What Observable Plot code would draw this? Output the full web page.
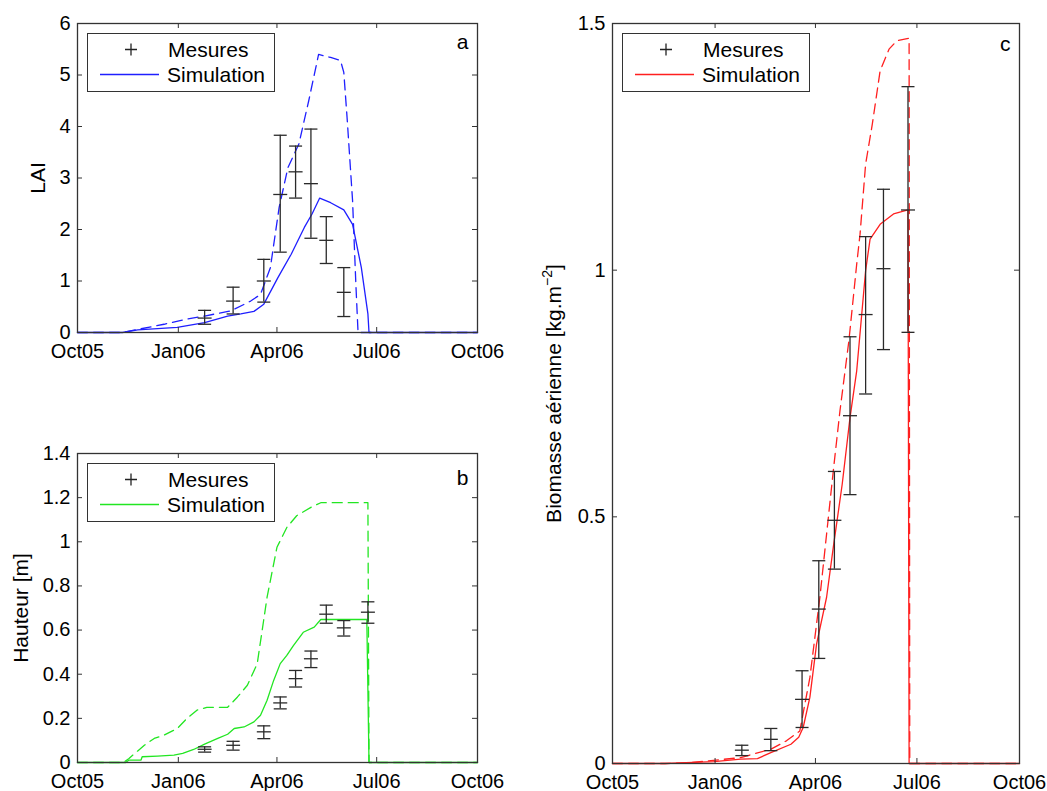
<!DOCTYPE html>
<html><head><meta charset="utf-8">
<script src="https://cdn.jsdelivr.net/npm/d3@7"></script>
<script src="https://cdn.jsdelivr.net/npm/@observablehq/plot@0.6"></script>
<style>
body{margin:0;background:#fff;}
#chart{position:relative;width:1047px;height:791px;font-family:"Liberation Sans",Arial,sans-serif;overflow:hidden;}
#chart svg{position:absolute;}
.legend{position:absolute;border:1.3px solid #333;background:#fff;box-sizing:border-box;width:188px;height:59px;}
.legend .lab{position:absolute;font-size:21px;line-height:21px;color:#000;white-space:nowrap;}
.legend svg{position:absolute;left:0;top:0;}
</style></head><body><div id="chart"></div>
<script>
// ---- axes ----
const xTickDates = ["2005-10-01","2006-01-01","2006-04-01","2006-07-01","2006-10-01"];
const xTickLabels = ["Oct05","Jan06","Apr06","Jul06","Oct06"];
const laiTicks = [0,1,2,3,4,5,6];
const hauteurTicks = [0,0.2,0.4,0.6,0.8,1,1.2,1.4];
const biomasseTicks = [0,0.5,1,1.5];
const legendLabels = ["Mesures","Simulation"];

// ---- measurements (mean, low and high ends of the error bars) ----
const mesDates = ["2006-01-25","2006-02-20","2006-03-20","2006-04-04","2006-04-18","2006-05-02","2006-05-16","2006-06-01","2006-06-23"];
const laiMes = [0.28,0.61,1.00,2.68,3.12,2.89,1.79,0.78];
const laiLo  = [0.16,0.36,0.59,1.56,2.61,1.83,1.34,0.31];
const laiHi  = [0.43,0.88,1.42,3.83,3.62,3.95,2.25,1.26];
const hautMes = [0.060,0.078,0.139,0.270,0.380,0.470,0.672,0.610,0.681];
const hautLo  = [0.047,0.056,0.108,0.243,0.342,0.430,0.631,0.573,0.631];
const hautHi  = [0.071,0.096,0.166,0.297,0.417,0.505,0.713,0.643,0.728];
const bioMes = [0.027,0.049,0.130,0.313,0.493,0.705,0.910,1.003,1.122];
const bioLo  = [0.016,0.026,0.073,0.213,0.394,0.545,0.749,0.839,0.874];
const bioHi  = [0.037,0.071,0.188,0.411,0.592,0.865,1.068,1.164,1.372];

// ---- simulations: solid and dashed ----
const laiSim = [["2005-10-01",0],["2005-11-11",0],["2005-11-25",0.05],["2005-12-31",0.10],["2006-01-25",0.19],["2006-02-15",0.32],["2006-02-27",0.36],["2006-03-11",0.41],["2006-03-20",0.55],["2006-04-02",1.07],["2006-04-14",1.52],["2006-04-26",2.04],["2006-05-03",2.30],["2006-05-10",2.61],["2006-05-20",2.52],["2006-06-01",2.38],["2006-06-09",2.10],["2006-06-17",1.26],["2006-06-23",0.36],["2006-06-24",0],["2006-10-01",0]];
const laiSimDash = [["2005-10-01",0],["2005-11-11",0],["2005-11-25",0.06],["2005-12-19",0.16],["2006-01-09",0.26],["2006-01-25",0.32],["2006-02-18",0.42],["2006-03-08",0.61],["2006-03-17",0.74],["2006-03-26",1.26],["2006-04-03",2.43],["2006-04-11",3.20],["2006-04-21",3.66],["2006-04-30",4.50],["2006-05-09",5.40],["2006-05-20",5.34],["2006-05-29",5.28],["2006-06-01",5.05],["2006-06-04",4.17],["2006-06-09",2.56],["2006-06-12",0.94],["2006-06-14",0],["2006-10-01",0]];
const hautSim = [["2005-10-01",0],["2005-11-14",0],["2005-11-17",0.011],["2005-11-28",0.011],["2005-11-29",0.026],["2005-12-13",0.029],["2005-12-28",0.033],["2006-01-05",0.041],["2006-01-15",0.059],["2006-01-25",0.083],["2006-02-06",0.109],["2006-02-15",0.128],["2006-02-21",0.154],["2006-03-02",0.161],["2006-03-11",0.184],["2006-03-17",0.214],["2006-03-23",0.282],["2006-03-29",0.372],["2006-04-04",0.448],["2006-04-10",0.485],["2006-04-16",0.530],["2006-04-25",0.590],["2006-05-05",0.613],["2006-05-11",0.648],["2006-06-22",0.648],["2006-06-24",0],["2006-10-01",0]];
const hautSimDash = [["2005-10-01",0],["2005-11-12",0],["2005-11-17",0.018],["2005-11-22",0.040],["2005-12-01",0.078],["2005-12-10",0.109],["2005-12-19",0.124],["2005-12-31",0.154],["2006-01-09",0.200],["2006-01-18",0.237],["2006-01-27",0.250],["2006-02-15",0.250],["2006-02-24",0.297],["2006-03-05",0.350],["2006-03-14",0.448],["2006-03-23",0.749],["2006-04-01",0.975],["2006-04-10",1.065],["2006-04-19",1.118],["2006-05-02",1.156],["2006-05-11",1.177],["2006-06-23",1.177],["2006-06-24",0],["2006-10-01",0]];
const bioSim = [["2005-10-01",0],["2005-11-17",0],["2005-12-31",0.004],["2006-01-24",0.009],["2006-02-08",0.010],["2006-02-20",0.022],["2006-03-10",0.039],["2006-03-17",0.053],["2006-03-21",0.073],["2006-03-27",0.134],["2006-04-02",0.242],["2006-04-11",0.337],["2006-04-17",0.438],["2006-04-25",0.566],["2006-05-02",0.701],["2006-05-08",0.796],["2006-05-16",0.999],["2006-05-20",1.063],["2006-05-29",1.093],["2006-06-10",1.114],["2006-06-23",1.122],["2006-06-24",0],["2006-10-01",0]];
const bioSimDash = [["2005-10-01",0],["2005-11-17",0],["2005-12-07",0.001],["2006-01-24",0.012],["2006-02-20",0.029],["2006-03-06",0.046],["2006-03-18",0.066],["2006-03-27",0.174],["2006-04-05",0.337],["2006-04-17",0.593],["2006-04-23",0.715],["2006-05-01",0.857],["2006-05-08",1.012],["2006-05-11",1.073],["2006-05-16",1.215],["2006-05-22",1.296],["2006-05-29",1.404],["2006-06-06",1.448],["2006-06-13",1.465],["2006-06-24",1.470],["2006-06-24T14:00Z",0],["2006-10-01",0]];

// ---- drawing ----
const parse = s => new Date(s.length === 10 ? s + "T00:00Z" : s);
const xDomain = [parse(xTickDates[0]), parse(xTickDates[xTickDates.length - 1])];
const xTicks = xTickDates.map(parse);
const xFmt = d => xTickLabels[xTicks.findIndex(t => +t === +d)];
const yFmt = d => String(d);
const hbar = {draw(ctx, size) { const r = Math.sqrt(size / Math.PI); ctx.moveTo(-r, 0); ctx.lineTo(r, 0); }};
const chart = document.getElementById("chart");
const FONT = '"Liberation Sans", Arial, Helvetica, sans-serif';

function panel(o) {
  const W = o.width - o.mL - o.mR, H = o.height - o.mT - o.mB;
  const pts = o.mes.map((v, i) => ({date: parse(mesDates[i]), v, lo: o.lo[i], hi: o.hi[i]}));
  const sx = d => parse(d[0]), sy = d => d[1];
  const tick = 5, ink = "#333", bar = "#2a2a2a";
  const svg = Plot.plot({
    width: o.width, height: o.height,
    marginLeft: o.mL, marginRight: o.mR, marginTop: o.mT, marginBottom: o.mB,
    style: {fontFamily: FONT, fontSize: "20px", background: "transparent", color: "#000", overflow: "visible"},
    x: {type: "utc", domain: xDomain},
    y: {domain: o.yDomain},
    marks: [
      Plot.line(o.simDash, {x: sx, y: sy, stroke: o.color, strokeWidth: 1.3, strokeDasharray: "10,6"}),
      Plot.line(o.sim, {x: sx, y: sy, stroke: o.color, strokeWidth: 1.3}),
      Plot.ruleX(pts, {x: "date", y1: "lo", y2: "hi", stroke: bar, strokeWidth: 1.3}),
      Plot.dot(pts, {x: "date", y: "lo", symbol: hbar, r: 6.5, stroke: bar, fill: "none", strokeWidth: 1.3}),
      Plot.dot(pts, {x: "date", y: "hi", symbol: hbar, r: 6.5, stroke: bar, fill: "none", strokeWidth: 1.3}),
      Plot.dot(pts, {x: "date", y: "v", symbol: hbar, r: 7, stroke: bar, fill: "none", strokeWidth: 1.3}),
      Plot.ruleX(xTicks, {x: d => d, insetTop: H - tick, stroke: ink}),
      Plot.ruleX(xTicks, {x: d => d, insetBottom: H - tick, stroke: ink}),
      Plot.ruleY(o.yTicks, {y: d => d, insetRight: W - tick, stroke: ink}),
      Plot.ruleY(o.yTicks, {y: d => d, insetLeft: W - tick, stroke: ink}),
      Plot.frame({stroke: ink, strokeWidth: 1.3}),
      Plot.axisX(xTicks, {tickSize: 0, tickPadding: 11, tickFormat: xFmt, label: null}),
      Plot.axisY(o.yTicks, {tickSize: 0, tickPadding: 7, tickFormat: yFmt, label: o.yLabel, labelAnchor: "center", labelOffset: o.labelOffset, labelArrow: "none", fontSize: 20}),
      Plot.text([o.letter], {text: d => d, frameAnchor: "top-right", dx: o.letterDx, dy: o.letterDy, lineAnchor: "bottom", textAnchor: "end", fontSize: 21})
    ]
  });
  svg.style.left = o.left + "px";
  svg.style.top = o.top + "px";
  chart.appendChild(svg);
  // style axis label
  svg.querySelectorAll('g[aria-label="y-axis label"] text').forEach(t => { t.setAttribute("font-size", "21"); t.style.fontSize = "21px"; });
  if (o.superscript) {
    const t = svg.querySelector('g[aria-label="y-axis label"] text');
    if (t) {
      const full = t.textContent;
      const k = full.indexOf(o.superscript.before);
      t.textContent = "";
      const a = document.createElementNS("http://www.w3.org/2000/svg", "tspan");
      a.textContent = full.slice(0, k + o.superscript.before.length);
      const s = document.createElementNS("http://www.w3.org/2000/svg", "tspan");
      s.textContent = o.superscript.sup; s.setAttribute("dy", "-9"); s.setAttribute("font-size", "14");
      const b = document.createElementNS("http://www.w3.org/2000/svg", "tspan");
      b.textContent = full.slice(k + o.superscript.before.length); b.setAttribute("dy", "9");
      t.append(a, s, b);
    }
  }
  // legend
  const lg = document.createElement("div");
  lg.className = "legend";
  lg.style.left = (o.left + o.legendX) + "px";
  lg.style.top = (o.top + o.legendY) + "px";
  const ns = "http://www.w3.org/2000/svg";
  const ls = document.createElementNS(ns, "svg");
  ls.setAttribute("width", 186); ls.setAttribute("height", 57);
  const plus = document.createElementNS(ns, "path");
  plus.setAttribute("d", "M37,15.5h12M43,9.5v12"); plus.setAttribute("stroke", "#222"); plus.setAttribute("stroke-width", "1.3"); plus.setAttribute("fill", "none");
  const ln = document.createElementNS(ns, "path");
  ln.setAttribute("d", "M12,40.5h59"); ln.setAttribute("stroke", o.color); ln.setAttribute("stroke-width", "1.3");
  ls.append(plus, ln);
  lg.appendChild(ls);
  const t1 = document.createElement("span"); t1.className = "lab"; t1.textContent = legendLabels[0]; t1.style.left = "80px"; t1.style.top = "5px";
  const t2 = document.createElement("span"); t2.className = "lab"; t2.textContent = legendLabels[1]; t2.style.left = "79px"; t2.style.top = "30px";
  lg.append(t1, t2);
  chart.appendChild(lg);
}

panel({left: 0, top: 0, width: 507, height: 368, mL: 77, mR: 30, mT: 23, mB: 36,
  yDomain: [0, 6], yTicks: laiTicks, yLabel: "LAI", labelOffset: 47, letter: "a", letterDx: -9, letterDy: 25,
  color: "#1f1fff", sim: laiSim, simDash: laiSimDash, mes: laiMes, lo: laiLo, hi: laiHi, legendX: 87, legendY: 33});
panel({left: 0, top: 430, width: 507, height: 361, mL: 77, mR: 30, mT: 23, mB: 29,
  yDomain: [0, 1.4], yTicks: hauteurTicks, yLabel: "Hauteur [m]", labelOffset: 64, letter: "b", letterDx: -9, letterDy: 31,
  color: "#22e622", sim: hautSim, simDash: hautSimDash, mes: hautMes, lo: hautLo, hi: hautHi, legendX: 87, legendY: 33});
panel({left: 540, top: 0, width: 507, height: 791, mL: 72, mR: 28, mT: 23, mB: 28,
  yDomain: [0, 1.5], yTicks: biomasseTicks, yLabel: "Biomasse aérienne [kg.m]", labelOffset: 66, letter: "c", letterDx: -9, letterDy: 27,
  superscript: {before: "[kg.m", sup: "\u22122"},
  color: "#ff1f1f", sim: bioSim, simDash: bioSimDash, mes: bioMes, lo: bioLo, hi: bioHi, legendX: 82, legendY: 33});
</script></body></html>
